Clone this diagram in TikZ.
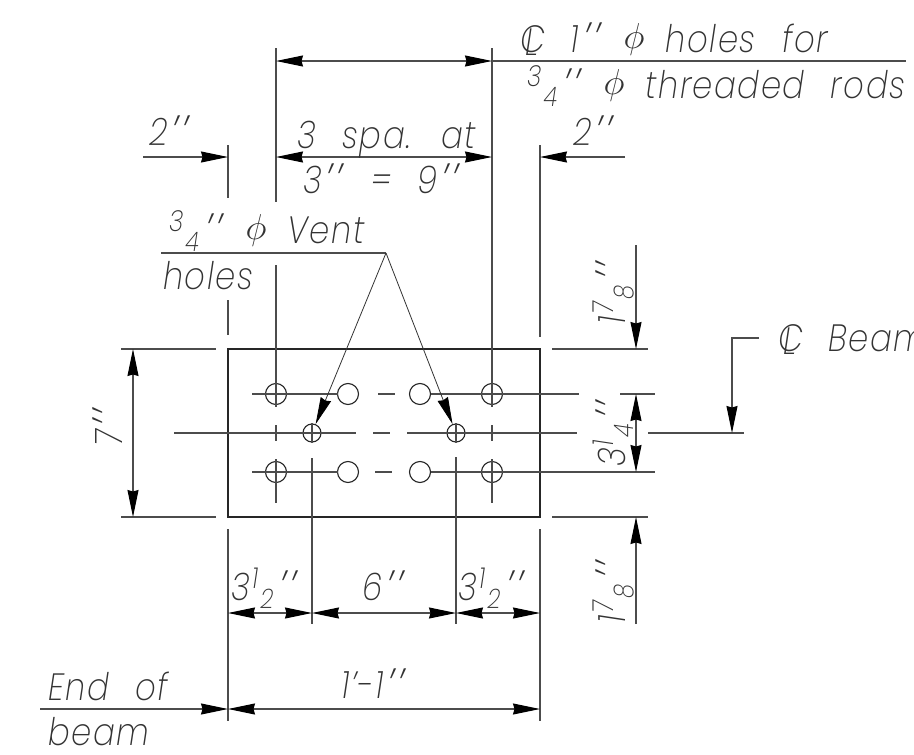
\documentclass[tikz,border=0pt]{standalone}
\usepackage{fontspec}
\usepackage{amsmath}
\usetikzlibrary{arrows.meta}
\setmainfont{Poppins}[UprightFont=* ExtraLight Italic,Ligatures=ResetAll,LetterSpace=4,FakeStretch=0.85,WordSpace=2.4]
\newcommand{\frc}[2]{\hspace{2pt}\raisebox{12pt}{\fontsize{29}{29}\selectfont #1}\hspace{2pt}\raisebox{-8pt}{\fontsize{27}{27}\selectfont #2}\hspace{2pt}}
\newcommand{\clmark}{\makebox[0pt][l]{C}\hspace{5pt}\raisebox{-3pt}{L}\hspace{6pt}}
\newcommand{\dia}{\hspace{-5pt}\raisebox{4pt}{\scalebox{1.45}{$\phi$}}\hspace{-5pt}}
\newcommand{\inch}{\hspace{4pt}\raisebox{-4pt}{\fontsize{48}{48}\selectfont'\hspace{3pt}'}\hspace{2pt}}
\tikzset{headtip/.tip={Stealth[length=27pt,width=11pt,inset=1.5pt,black]}}

\begin{document}
\begin{tikzpicture}[x=1pt,y=-1pt,
    dimline/.style={draw=black!70,line width=1.1pt},
    dimarrow/.style={dimline,headtip-headtip},
    dimhead/.style={dimline,-headtip},
    hole/.style={circle,draw=black!85,line width=1.1pt,minimum size=21pt,inner sep=0pt},
    vent/.style={hole,minimum size=18pt},
    caption/.style={inner sep=0pt,anchor=base west,text=black!80,font=\fontsize{38}{38}\selectfont}]
    \useasboundingbox (0,0) rectangle (914,755);
    \def\rowa{394}
    \def\rowb{433}
    \def\rowc{472}
    % plate
    \draw[black!85,line width=1.3pt] (228,349) rectangle (540,517);
    % bolt holes and vent holes
    \foreach \nm/\xx in {a/276,b/348,c/420,d/492}{
        \node[hole] (\nm1) at (\xx,\rowa) {};
        \node[hole] (\nm3) at (\xx,\rowc) {};
    }
    \node[vent] (v1) at (312,\rowb) {};
    \node[vent] (v2) at (456,\rowb) {};
    % centre lines
    \draw[dimline] (252,\rowa) -- (338,\rowa) (378,\rowa) -- (395,\rowa) (431,\rowa) -- (579,\rowa) (620,\rowa) -- (655,\rowa);
    \draw[dimline] (174,\rowb) -- (356,\rowb) (373,\rowb) -- (390,\rowb) (407,\rowb) -- (577,\rowb) (648,\rowb) -- (744,\rowb);
    \draw[dimline] (252,\rowc) -- (338,\rowc) (375,\rowc) -- (392,\rowc) (431,\rowc) -- (655,\rowc);
    \foreach \xx in {276,492}{
        \draw[dimline] (\xx,425) -- (\xx,441) (\xx,459) -- (\xx,503);
    }
    \draw[dimline] (276,48) -- (276,202) (276,265) -- (276,407);
    \draw[dimline] (492,48) -- (492,407);
    \draw[dimline] (228,145) -- (228,198) (228,300) -- (228,335) (228,529) -- (228,721);
    \draw[dimline] (540,145) -- (540,337) (540,529) -- (540,721);
    \draw[dimline] (312,423) -- (312,443) (312,458) -- (312,624);
    \draw[dimline] (456,423) -- (456,443) (456,457) -- (456,624);
    \draw[dimline] (121,349) -- (216,349) (121,517) -- (216,517);
    \draw[dimline] (552,349) -- (648,349) (552,517) -- (648,517);
    % dimensions on top
    \coordinate (ta) at (276,61);
    \coordinate (tb) at (492,61);
    \coordinate (tc) at (906,61);
    \draw[dimarrow] (ta) -- (tb);
    \draw[dimline] (tb) -- (tc);
    \coordinate (sa) at (276,157);
    \coordinate (sb) at (492,157);
    \draw[dimarrow] (sa) -- (sb);
    \coordinate (la) at (143,157);
    \coordinate (lb) at (228,157);
    \draw[dimhead] (la) -- (lb);
    \coordinate (ra) at (625,157);
    \coordinate (rb) at (540,157);
    \draw[dimhead] (ra) -- (rb);
    % dimensions at the side
    \draw[dimarrow] (133,349) -- (133,517);
    \draw[dimhead] (636,245) -- (636,349);
    \draw[dimarrow] (636,\rowa) -- (636,\rowc);
    \draw[dimhead] (636,624) -- (636,517);
    % dimensions at the bottom
    \draw[dimarrow] (228,613) -- (312,613);
    \draw[dimarrow] (312,613) -- (456,613);
    \draw[dimarrow] (456,613) -- (540,613);
    \draw[dimarrow] (228,709) -- (540,709);
    \draw[dimhead] (40,709) -- (228,709);
    % beam centre mark
    \draw[dimhead] (759,338) -- (732,338) -- (732,\rowb);
    % vent leader
    \coordinate (apex) at (386,253);
    \draw[dimline] (161,253) -- (apex);
    \draw[black!80,line width=0.8pt,-headtip] (apex) -- (v1);
    \draw[black!80,line width=0.8pt,-headtip] (apex) -- (v2);
    % texts
    \node[caption] (holesfor) at (520,52) {\clmark{} 1\inch{} \dia{} holes for};
    \node[caption] (rods) at (525,98) {\frc{3}{4}\inch{} \dia{} threaded rods};
    \node[caption] (lefttwo) at (149,145) {2\inch};
    \node[caption] (spaat) at (297,148) {3 spa. at};
    \node[caption] (nine) at (303,193) {3\inch{} = 9\inch};
    \node[caption] (righttwo) at (573,145) {2\inch};
    \node[caption] (venttext) at (167,243) {\frc{3}{4}\inch{} \dia{} Vent};
    \node[caption] (holestext) at (163,289) {holes};
    \node[caption,rotate=90] (upper) at (625,325) {1\frc{7}{8}\inch};
    \node[caption,rotate=90] (lower) at (625,624) {1\frc{7}{8}\inch};
    \node[caption,rotate=90] (seven) at (122,447) {7\inch};
    \node[caption,rotate=90] (threeq) at (625,467) {3\frc{1}{4}\inch};
    \node[caption] (beamtext) at (778,351) {\clmark{} Beam};
    \node[caption] (halfa) at (231,600) {3\frc{1}{2}\inch};
    \node[caption] (six) at (362,600) {6\inch};
    \node[caption] (halfb) at (458,600) {3\frc{1}{2}\inch};
    \node[caption] (total) at (341,698) {1'-1\inch};
    \node[caption] (endof) at (48,700) {End of};
    \node[caption] (beamword) at (48,745) {beam};
\end{tikzpicture}
\end{document}
